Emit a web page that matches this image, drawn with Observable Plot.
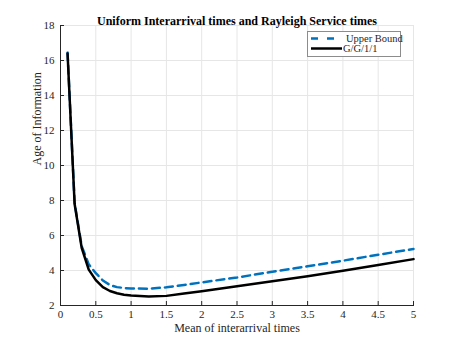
<!DOCTYPE html>
<html><head><meta charset="utf-8">
<script src="https://cdn.jsdelivr.net/npm/d3@7"></script>
<script src="https://cdn.jsdelivr.net/npm/@observablehq/plot@0.6"></script>
<style>
body{margin:0;background:#fff}
#wrap{position:relative;width:457px;height:343px}
</style>
</head><body><div id="wrap"></div>
<script>
const title = "Uniform Interarrival times and Rayleigh Service times";
const xLabel = "Mean of interarrival times";
const yLabel = "Age of Information";
const seriesNames = ["Upper Bound", "G/G/1/1"];
const meanInterarrival = [0.1,0.2,0.3,0.4,0.5,0.6,0.7,0.8,0.9,1.0,1.25,1.5,1.75,2,2.5,3,3.5,4,4.5,5];
const upperBound = [16.45,7.85,5.4,4.35,3.85,3.43,3.17,3.05,3.0,2.97,2.96,3.04,3.17,3.32,3.6,3.93,4.24,4.56,4.9,5.23];
const ggl11 = [16.4,7.8,5.3,4.05,3.45,3.05,2.83,2.7,2.62,2.57,2.52,2.55,2.68,2.81,3.1,3.38,3.67,3.99,4.32,4.65];
const xTicks = [0,0.5,1,1.5,2,2.5,3,3.5,4,4.5,5];
const yTicks = [2,4,6,8,10,12,14,16,18];

const W = 457, H = 343, mL = 60, mR = 44, mT = 25, mB = 38;
const plotW = W - mL - mR, plotH = H - mT - mB;
const blue = "#0072BD", axisCol = "#262626", gridCol = "#e6e6e6";
const serif = "'Liberation Serif', 'Times New Roman', serif";

const ubData = meanInterarrival.map((x, i) => ({x, y: upperBound[i]}));
const ggData = meanInterarrival.map((x, i) => ({x, y: ggl11[i]}));

const chart = Plot.plot({
  width: W, height: H,
  marginLeft: mL, marginRight: mR, marginTop: mT, marginBottom: mB,
  style: {fontFamily: serif, fontSize: "11px", color: axisCol, background: "#fff"},
  x: {domain: [0, 5], label: null},
  y: {domain: [2, 18], label: null},
  marks: [
    Plot.gridX(xTicks, {stroke: gridCol, strokeOpacity: 1}),
    Plot.gridY(yTicks, {stroke: gridCol, strokeOpacity: 1}),
    Plot.line(ubData, {x: "x", y: "y", stroke: blue, strokeWidth: 2.5, strokeDasharray: "8,5"}),
    Plot.line(ggData, {x: "x", y: "y", stroke: "#000", strokeWidth: 2.5}),
    Plot.frame({anchor: "left", stroke: axisCol}),
    Plot.frame({anchor: "bottom", stroke: axisCol}),
    Plot.tickX(xTicks, {x: d => d, insetTop: plotH - 4, stroke: axisCol}),
    Plot.tickY(yTicks, {y: d => d, insetRight: plotW - 4, stroke: axisCol}),
    Plot.axisX(xTicks, {tickSize: 0, tickPadding: 5, tickFormat: d => String(d), label: null}),
    Plot.axisY(yTicks, {tickSize: 0, tickPadding: 6, tickFormat: d => String(d), label: null}),
    Plot.text([xLabel], {text: d => d, frameAnchor: "bottom", dy: 26, fontSize: 12}),
    Plot.text([yLabel], {text: d => d, frameAnchor: "left", rotate: -90, dx: -23, fontSize: 12}),
    Plot.text([title], {text: d => d, frameAnchor: "top", dy: -9, fontSize: 12, fontWeight: "bold", fill: "#000"})
  ]
});
document.getElementById("wrap").appendChild(chart);

// Legend
const svg = d3.select(chart);
const lg = svg.append("g").attr("transform", "translate(307,31)")
  .attr("text-anchor", "start")
  .style("font-family", serif).style("font-size", "10.5px");
lg.append("rect").attr("x", 0.5).attr("y", 0.5).attr("width", 93).attr("height", 25)
  .attr("fill", "#fff").attr("stroke", "#8c8c8c");
const entries = [
  {name: seriesNames[0], color: blue, dash: "7,9", x2: 29, tx: 39},
  {name: seriesNames[1], color: "#000", dash: null, x2: 35, tx: 36}
];
entries.forEach((e, i) => {
  const yy = 7.5 + i * 10;
  lg.append("line").attr("x1", 4).attr("x2", e.x2).attr("y1", yy).attr("y2", yy)
    .attr("stroke", e.color).attr("stroke-width", 2.5).attr("stroke-dasharray", e.dash);
  lg.append("text").attr("x", e.tx).attr("y", yy).attr("dy", "0.35em")
    .attr("text-anchor", "start").attr("fill", axisCol).text(e.name);
});
</script>
</body></html>
